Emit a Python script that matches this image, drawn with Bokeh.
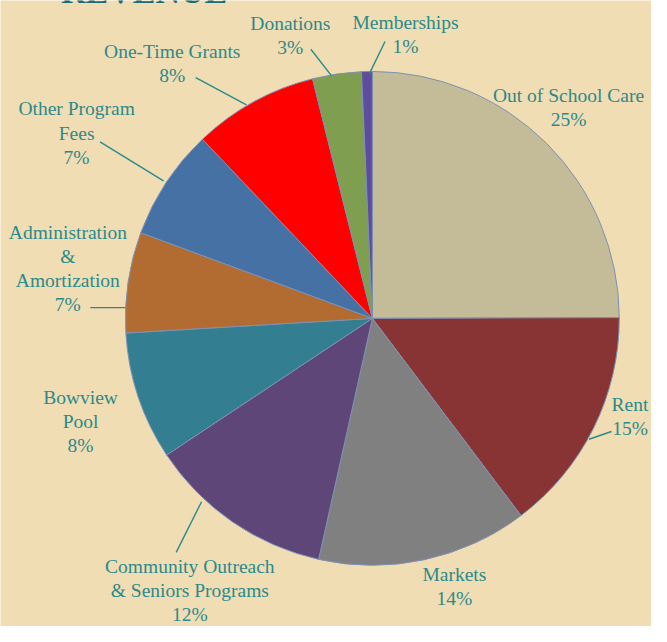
import numpy as np
from bokeh.plotting import figure
from bokeh.models import Range1d, ColumnDataSource
from bokeh.core.properties import value
from bokeh.embed import file_html
from bokeh.resources import INLINE

# ---- data ----
categories = ["Out of School Care", "Rent", "Markets",
              "Community Outreach\n& Seniors Programs", "Bowview\nPool",
              "Administration\n&\nAmortization", "Other Program\nFees",
              "One-Time Grants", "Donations", "Memberships"]
shares = [25.0, 14.8, 13.8, 12.2, 8.4, 6.6, 7.3, 8.2, 3.2, 0.7]
pct_labels = ["25%", "15%", "14%", "12%", "8%", "7%", "7%", "8%", "3%", "1%"]

# ---- styles / layout ----
colors = ["#C4BC99", "#883434", "#808080", "#5E4678", "#347E92",
          "#B26C31", "#4571A5", "#FE0000", "#7F9E50", "#5E4C9E"]
BG = "#F1DDB3"
TXT = "#2B8A8C"
W, H = 651, 626
RW, RH = 667, 642   # reference layout units


def Y(py):
    return RH - py


cx, cy, R = 381, Y(326), 253
label_x = [582, 645, 465, 194, 82, 69, 78, 176, 297, 415]
label_y = [110, 427, 601, 605, 432, 275, 136, 65, 36, 35]
leaders = [
    ((318, 50), (339, 77)),
    ((394, 42), (378, 75)),
    ((200, 79), (252, 107)),
    ((102, 145), (167, 185)),
    ((92, 315), (128, 315)),
    ((180, 566), (206, 514)),
    ((603, 450), (626, 442)),
]

p = figure(width=W, height=H, output_backend="svg", toolbar_location=None,
           x_axis_type=None, y_axis_type=None, min_border=0,
           x_range=Range1d(0, RW), y_range=Range1d(0, RH))
p.background_fill_color = BG
p.border_fill_color = BG
p.outline_line_color = None

vals = np.array(shares)
frac = np.cumsum(vals) / vals.sum()
start = np.pi / 2 - 2 * np.pi * np.concatenate([[0], frac[:-1]])
end = np.pi / 2 - 2 * np.pi * frac

src = ColumnDataSource(dict(start=start, end=end, color=colors))
p.wedge(x=cx, y=cy, radius=R, start_angle="start", end_angle="end",
        direction="clock", fill_color="color", line_color="#7D91B4",
        line_width=1, source=src)

# leader lines
p.segment(x0=[a[0] for a, b in leaders], y0=[Y(a[1]) for a, b in leaders],
          x1=[b[0] for a, b in leaders], y1=[Y(b[1]) for a, b in leaders],
          line_color=TXT, line_width=1.4)

texts = [c + "\n" + pc for c, pc in zip(categories, pct_labels)]
p.text(x=label_x, y=[Y(v) for v in label_y], text=texts,
       text_font=value("Liberation Serif"), text_font_size="19.5px",
       text_color=TXT, text_align="center", text_baseline="middle",
       text_line_height=1.15)

# heading, cut by the top edge as in the reference (only its foot shows)
p.text(x=[62], y=[Y(-9)], text=["REVENUE"], text_font=value("Liberation Serif"),
       text_font_size="34px", text_font_style="bold", text_color="#1D6C74",
       text_align="left", text_baseline="alphabetic")

open("out.html", "w").write(file_html(p, INLINE))
